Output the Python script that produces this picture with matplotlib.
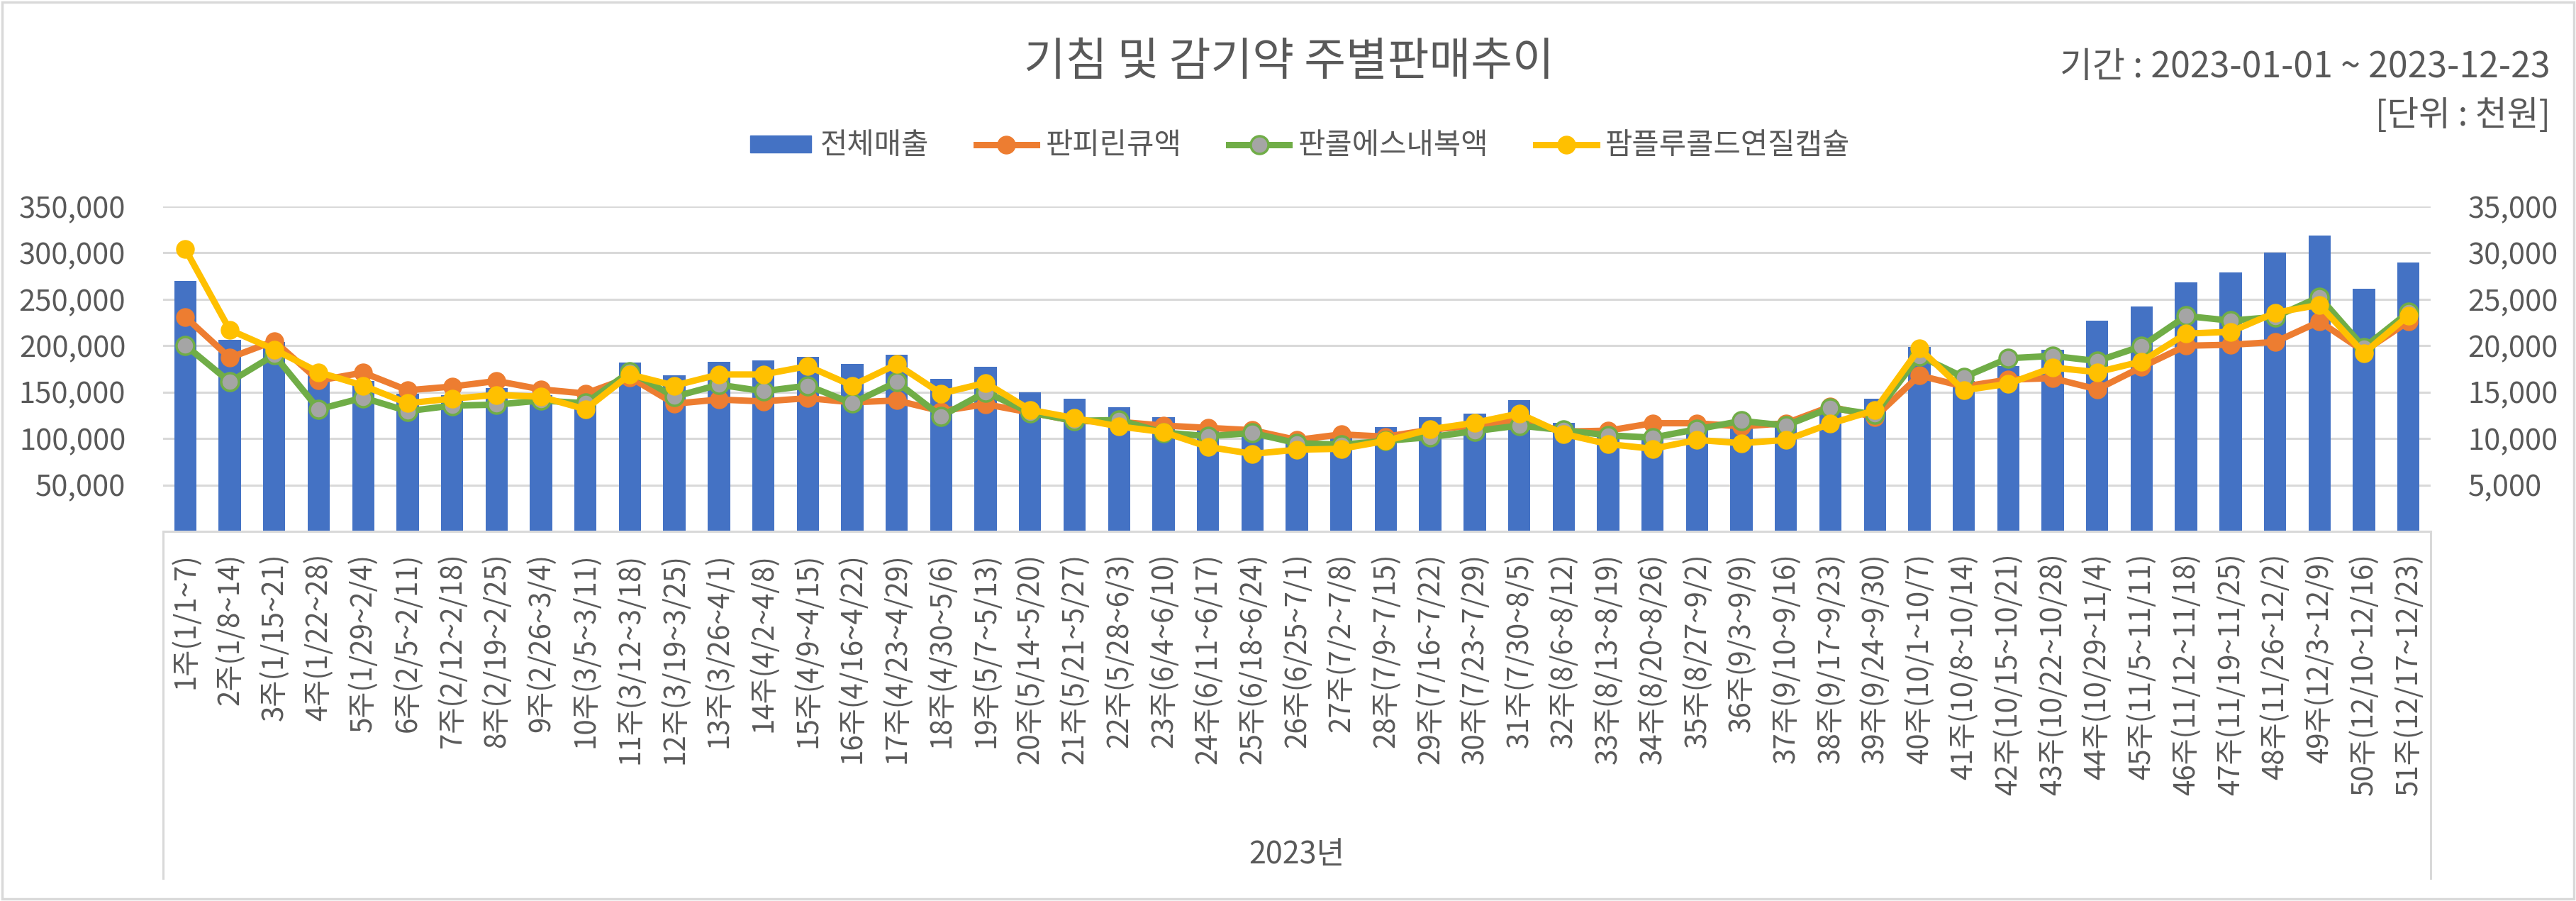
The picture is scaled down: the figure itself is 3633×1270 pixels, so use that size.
import matplotlib
matplotlib.use("Agg")
import matplotlib.pyplot as plt
from matplotlib.lines import Line2D
from matplotlib.patches import Patch, Rectangle
from matplotlib.ticker import FuncFormatter

plt.rcParams['font.family'] = ['Noto Sans CJK KR', 'DejaVu Sans']
plt.rcParams['font.weight'] = 'light'

weeks = ["1주(1/1~7)", "2주(1/8~14)", "3주(1/15~21)", "4주(1/22~28)", "5주(1/29~2/4)",
         "6주(2/5~2/11)", "7주(2/12~2/18)", "8주(2/19~2/25)", "9주(2/26~3/4)", "10주(3/5~3/11)",
         "11주(3/12~3/18)", "12주(3/19~3/25)", "13주(3/26~4/1)", "14주(4/2~4/8)", "15주(4/9~4/15)",
         "16주(4/16~4/22)", "17주(4/23~4/29)", "18주(4/30~5/6)", "19주(5/7~5/13)", "20주(5/14~5/20)",
         "21주(5/21~5/27)", "22주(5/28~6/3)", "23주(6/4~6/10)", "24주(6/11~6/17)", "25주(6/18~6/24)",
         "26주(6/25~7/1)", "27주(7/2~7/8)", "28주(7/9~7/15)", "29주(7/16~7/22)", "30주(7/23~7/29)",
         "31주(7/30~8/5)", "32주(8/6~8/12)", "33주(8/13~8/19)", "34주(8/20~8/26)", "35주(8/27~9/2)",
         "36주(9/3~9/9)", "37주(9/10~9/16)", "38주(9/17~9/23)", "39주(9/24~9/30)", "40주(10/1~10/7)",
         "41주(10/8~10/14)", "42주(10/15~10/21)", "43주(10/22~10/28)", "44주(10/29~11/4)", "45주(11/5~11/11)",
         "46주(11/12~11/18)", "47주(11/19~11/25)", "48주(11/26~12/2)", "49주(12/3~12/9)", "50주(12/10~12/16)",
         "51주(12/17~12/23)"]

total_sales = [270000, 206000, 204000, 168000, 162000, 148000, 147000, 154000, 147000, 140000,
               182000, 168000, 183000, 184000, 188000, 180000, 190000, 164000, 177000, 150000,
               143000, 134000, 123000, 109000, 105000, 101000, 103000, 112000, 123000, 127000,
               141000, 117000, 106000, 103000, 109000, 114000, 119000, 129000, 143000, 199000,
               162000, 178000, 196000, 227000, 242000, 268000, 279000, 300000, 319000, 261000,
               290000]

pampirin = [23100, 18700, 20500, 16250, 17100, 15200, 15600, 16200, 15300, 14850,
            16600, 13750, 14200, 14000, 14350, 13900, 14100, 12950, 13700, 12800,
            11900, 11800, 11400, 11150, 10900, 9850, 10450, 10200, 10950, 11400,
            12000, 10750, 10850, 11650, 11650, 11300, 11650, 13450, 12300, 16800,
            15600, 16350, 16500, 15300, 17700, 20000, 20100, 20400, 22600, 19400,
            22600]

pancol = [20050, 16100, 19000, 13150, 14400, 12950, 13550, 13650, 14100, 13800,
          17200, 14500, 15800, 15100, 15700, 13800, 16100, 12400, 15000, 12800,
          11900, 12000, 10650, 10250, 10600, 9500, 9350, 9750, 10150, 10800,
          11400, 10900, 10350, 10100, 11000, 11900, 11400, 13300, 12600, 18900,
          16600, 18650, 18900, 18350, 19950, 23200, 22700, 23100, 25250, 19800,
          23600]

pamflu = [30400, 21700, 19600, 17150, 15700, 13800, 14300, 14700, 14500, 13150,
          16900, 15700, 16900, 16900, 17800, 15700, 18000, 14850, 16000, 13100,
          12200, 11300, 10700, 9100, 8350, 8800, 8900, 9750, 11000, 11700,
          12700, 10500, 9400, 8900, 9850, 9500, 9850, 11600, 13050, 19700,
          15200, 15900, 17650, 17150, 18300, 21300, 21500, 23550, 24400, 19200,
          23250]

series_names = ["전체매출", "판피린큐액", "판콜에스내복액", "팜플루콜드연질캡슐"]
left_ticks = [0, 50000, 100000, 150000, 200000, 250000, 300000, 350000]
right_ticks = [0, 5000, 10000, 15000, 20000, 25000, 30000, 35000]
title = "기침 및 감기약 주별판매추이"
period = "기간 : 2023-01-01 ~ 2023-12-23"
unit = "[단위 : 천원]"
year_label = "2023년"

TXT = "#595959"
GRID = "#D9D9D9"
BLUE = "#4472C4"
ORANGE = "#ED7D31"
GREEN = "#70AD47"
GRAY = "#A5A5A5"
YELLOW = "#FFC000"

W, H = 3633, 1270
fig = plt.figure(figsize=(W / 100, H / 100), dpi=100)
L, R, T, B = 230, 3428, 291, 749
ax = fig.add_axes([L / W, 1 - B / H, (R - L) / W, (B - T) / H])

x = list(range(len(weeks)))
ax.bar(x, total_sales, width=0.5, color=BLUE, zorder=2)
ax.set_xlim(-0.5, len(weeks) - 0.5)
ax.set_ylim(0, 350000)
ax.set_yticks(left_ticks)
ax.yaxis.set_major_formatter(FuncFormatter(lambda v, p: "" if v == 0 else f"{int(v):,}"))
ax.grid(axis='y', color=GRID, lw=2.2, zorder=0)
ax.set_axisbelow(True)
for s in ['top', 'right', 'left']:
    ax.spines[s].set_visible(False)
ax.spines['bottom'].set_color(GRID)
ax.spines['bottom'].set_linewidth(2.2)
ax.tick_params(axis='y', length=0, pad=38, labelsize=30, labelcolor=TXT)
ax.set_xticks(x)
ax.set_xticklabels(weeks, rotation=90, ha='center', va='top')
ax.tick_params(axis='x', length=0, pad=22, labelsize=29, labelcolor=TXT)

ax2 = ax.twinx()
ax2.set_ylim(0, 35000)
ax2.set_yticks(right_ticks)
ax2.yaxis.set_major_formatter(FuncFormatter(lambda v, p: "" if v == 0 else f"{int(v):,}"))
for s in ['top', 'right', 'left', 'bottom']:
    ax2.spines[s].set_visible(False)
ax2.tick_params(axis='y', length=0, pad=38, labelsize=30, labelcolor=TXT)

lw = 6.5
ms = 18
ax2.plot(x, pampirin, color=ORANGE, lw=lw, marker='o', ms=ms, mfc=ORANGE, mec=ORANGE, zorder=3)
ax2.plot(x, pancol, color=GREEN, lw=lw, marker='o', ms=ms, mfc=GRAY, mec=GREEN, mew=2.5, zorder=4)
ax2.plot(x, pamflu, color=YELLOW, lw=lw, marker='o', ms=ms, mfc=YELLOW, mec=YELLOW, zorder=5)

# category box lines and group label
depth = (1238 - B) / (B - T)
for xx in (0, 1):
    ax.plot([xx, xx], [0, -depth], transform=ax.transAxes, clip_on=False, color=GRID, lw=2.2)
ax.text(0.5, -(1205 - B) / (B - T), year_label, transform=ax.transAxes, ha='center', va='center',
        fontsize=31, color=TXT)

# titles
fig.text(1818 / W, 1 - 88 / H, title, ha='center', va='center', fontsize=46, color=TXT)
fig.text(3597 / W, 1 - 95 / H, period, ha='right', va='center', fontsize=36, color=TXT)
fig.text(3597 / W, 1 - 163 / H, unit, ha='right', va='center', fontsize=35, color=TXT)

handles = [Patch(facecolor=BLUE, edgecolor=BLUE),
           Line2D([], [], color=ORANGE, lw=lw, marker='o', ms=ms, mfc=ORANGE, mec=ORANGE),
           Line2D([], [], color=GREEN, lw=lw, marker='o', ms=ms, mfc=GRAY, mec=GREEN, mew=2.5),
           Line2D([], [], color=YELLOW, lw=lw, marker='o', ms=ms, mfc=YELLOW, mec=YELLOW)]
leg = fig.legend(handles, series_names, loc='center', bbox_to_anchor=(1834 / W, 1 - 206 / H),
                 ncol=4, frameon=False, fontsize=30, handlelength=2.05, handleheight=0.5,
                 handletextpad=0.3, columnspacing=1.6, labelcolor=TXT)

fig.patches.append(Rectangle((0.0008, 0.002), 0.9984, 0.996, transform=fig.transFigure,
                             fill=False, edgecolor=GRID, lw=2.5))

fig.savefig("out.png", dpi=100, facecolor='white')
